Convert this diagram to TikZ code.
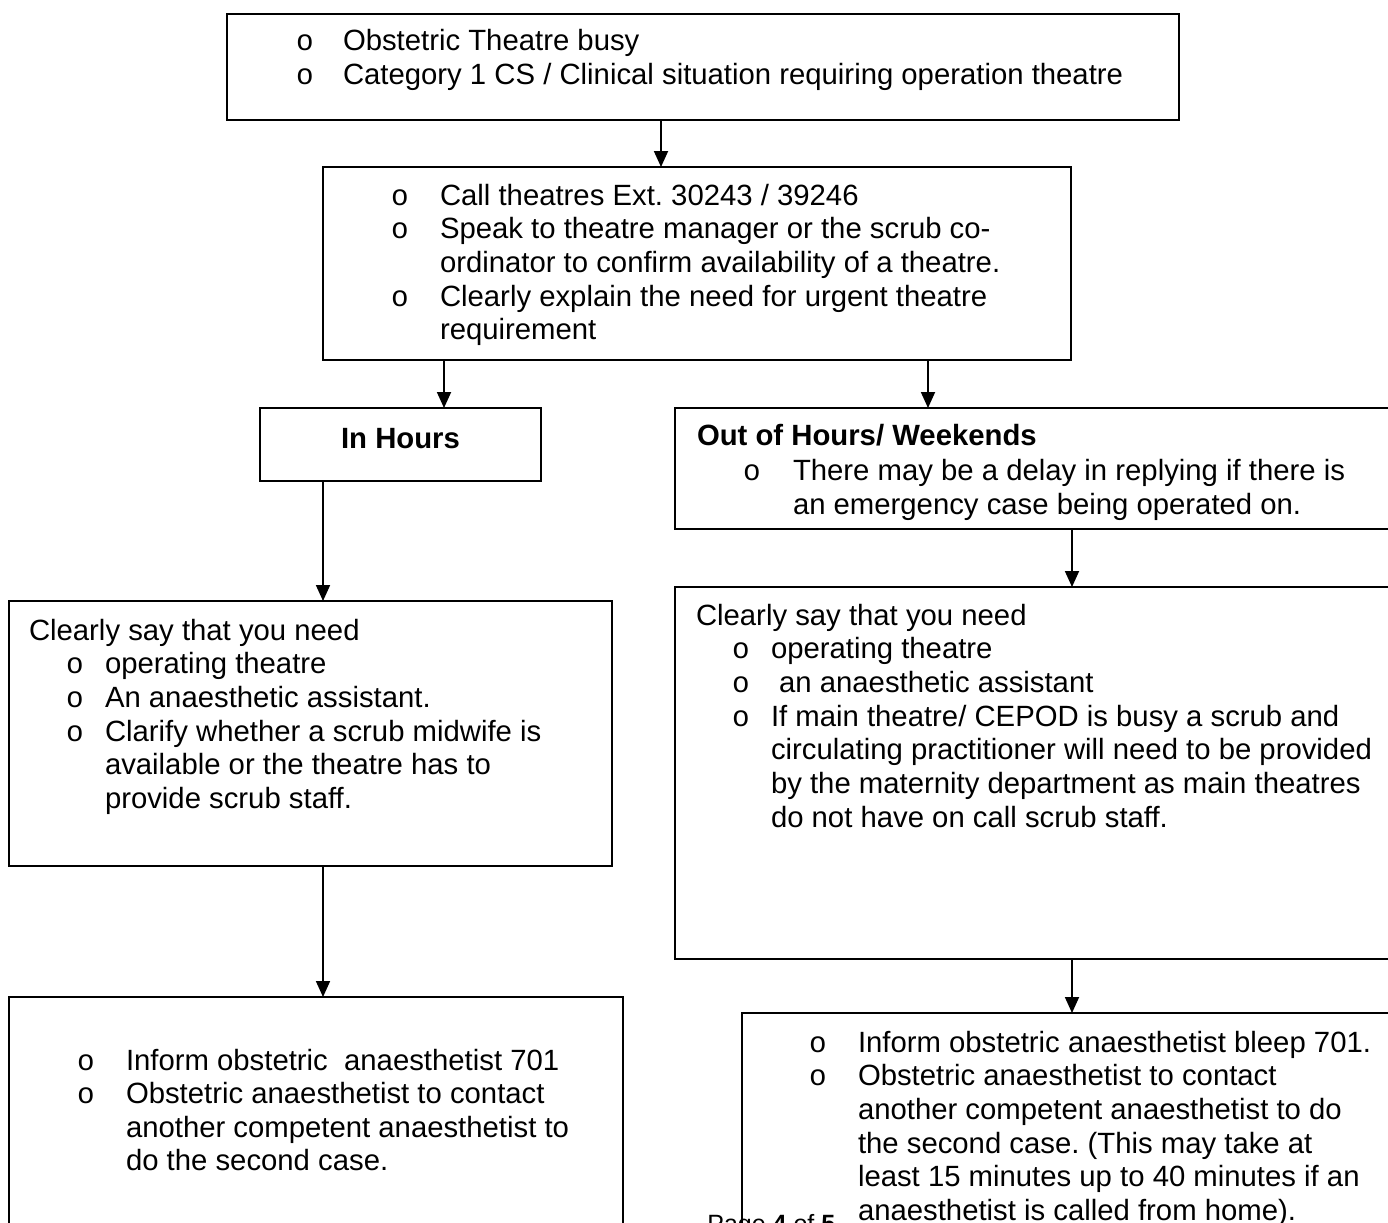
\documentclass[tikz,border=0pt]{standalone}
\usepackage{fontspec}
\setmainfont{Liberation Sans}
\newfontfamily\bulfont{Liberation Mono}
\usetikzlibrary{arrows.meta}
\frenchspacing
\tikzset{
  box/.style={draw, line width=1pt, rectangle, inner sep=0pt, outer sep=0pt, anchor=north west},
  txt/.style={inner sep=0pt, outer sep=0pt, anchor=base west, font=\fontsize{14.65pt}{16.85pt}\selectfont\frenchspacing},
  arr/.style={line width=0.9pt, -{Triangle[width=7pt,length=8pt]}},
}
\newcommand\bul[1]{\llap{{\bulfont o}\hspace*{#1}}}
\newcommand\textlines[5]{%
  \foreach \t [count=\i] in {#5} {\node[txt] (#1\i) at (#2,{#3+(\i-1)*#4}) {\t};}}
\begin{document}
\begin{tikzpicture}[x=0.5pt,y=-0.5pt]
\useasboundingbox (0,0) rectangle (1388,1222);
\clip (0,0) rectangle (1388,1222);
\fill[white] (0,0) rectangle (1388,1222);

% boxes
\node[box, minimum width=476pt, minimum height=53pt] (top) at (227,14) {};
\node[box, minimum width=374pt, minimum height=96.5pt] (call) at (323,167) {};
\node[box, minimum width=140.5pt, minimum height=36.5pt] (inh) at (260,408) {};
\node[box, minimum width=372.5pt, minimum height=60.5pt] (ooh) at (675,408) {};
\node[box, minimum width=301.5pt, minimum height=132.5pt] (needL) at (9,601) {};
\node[box, minimum width=372.5pt, minimum height=186pt] (needR) at (675,587) {};
\node[box, minimum width=307pt, minimum height=131.5pt] (infL) at (9,997) {};
\node[box, minimum width=339pt, minimum height=123.5pt] (infR) at (742,1013) {};

% texts
\textlines{tTop}{343}{50}{34.5}{{\bul{14.6pt}Obstetric Theatre busy},
  {\bul{14.6pt}Category 1 CS / Clinical situation requiring operation theatre}}
\textlines{tCall}{440}{205}{33.7}{{\bul{15.6pt}Call theatres Ext. 30243 / 39246},
  {\bul{15.6pt}Speak to theatre manager or the scrub co-},
  {ordinator to confirm availability of a theatre.},
  {\bul{15.6pt}Clearly explain the need for urgent theatre},
  {requirement}}
\node[txt, anchor=base, font=\fontsize{14.65pt}{16.85pt}\selectfont\bfseries] (tInh) at (400.5,448) {In Hours};
\node[txt, font=\fontsize{14.65pt}{16.85pt}\selectfont\bfseries] (tOohH) at (697,445) {Out of Hours/ Weekends};
\textlines{tOoh}{793}{480}{34}{{\bul{16.1pt}There may be a delay in replying if there is},
  {an emergency case being operated on.}}
\node[txt] (tNeedLH) at (29,640) {Clearly say that you need};
\textlines{tNeedL}{105}{673.7}{33.7}{{\bul{10.6pt}operating theatre},
  {\bul{10.6pt}An anaesthetic assistant.},
  {\bul{10.6pt}Clarify whether a scrub midwife is},
  {available or the theatre has to},
  {provide scrub staff.}}
\node[txt] (tNeedRH) at (696,625) {Clearly say that you need};
\textlines{tNeedR}{771}{658.7}{33.7}{{\bul{10.6pt}operating theatre},
  {\bul{10.6pt}\ an anaesthetic assistant},
  {\bul{10.6pt}If main theatre/ CEPOD is busy a scrub and},
  {circulating practitioner will need to be provided},
  {by the maternity department as main theatres},
  {do not have on call scrub staff.}}
\textlines{tInfL}{126}{1070}{33.6}{{\bul{15.6pt}Inform obstetric \ anaesthetist 701},
  {\bul{15.6pt}Obstetric anaesthetist to contact},
  {another competent anaesthetist to},
  {do the second case.}}
\textlines{tInfR}{858}{1052}{33.7}{{\bul{15.6pt}Inform obstetric anaesthetist bleep 701.},
  {\bul{15.6pt}Obstetric anaesthetist to contact},
  {another competent anaesthetist to do},
  {the second case. (This may take at},
  {least 15 minutes up to 40 minutes if an},
  {anaesthetist is called from home).}}
\node[inner sep=0pt, anchor=base west, font=\fontsize{12.5pt}{15pt}\selectfont] (page) at (707,1232) {Page \textbf{4} of \textbf{5}};

% connector columns
\coordinate (c661) at (661,0);
\coordinate (c444) at (444,0);
\coordinate (c928) at (928,0);
\coordinate (c323) at (323,0);
\coordinate (c1072) at (1072,0);

% connectors
\draw[arr] (top.south -| c661) -- (call.north -| c661);
\draw[arr] (call.south -| c444) -- (inh.north -| c444);
\draw[arr] (call.south -| c928) -- (ooh.north -| c928);
\draw[arr] (inh.south -| c323) -- (needL.north -| c323);
\draw[arr] (ooh.south -| c1072) -- (needR.north -| c1072);
\draw[arr] (needL.south -| c323) -- (infL.north -| c323);
\draw[arr] (needR.south -| c1072) -- (infR.north -| c1072);
\end{tikzpicture}
\end{document}
